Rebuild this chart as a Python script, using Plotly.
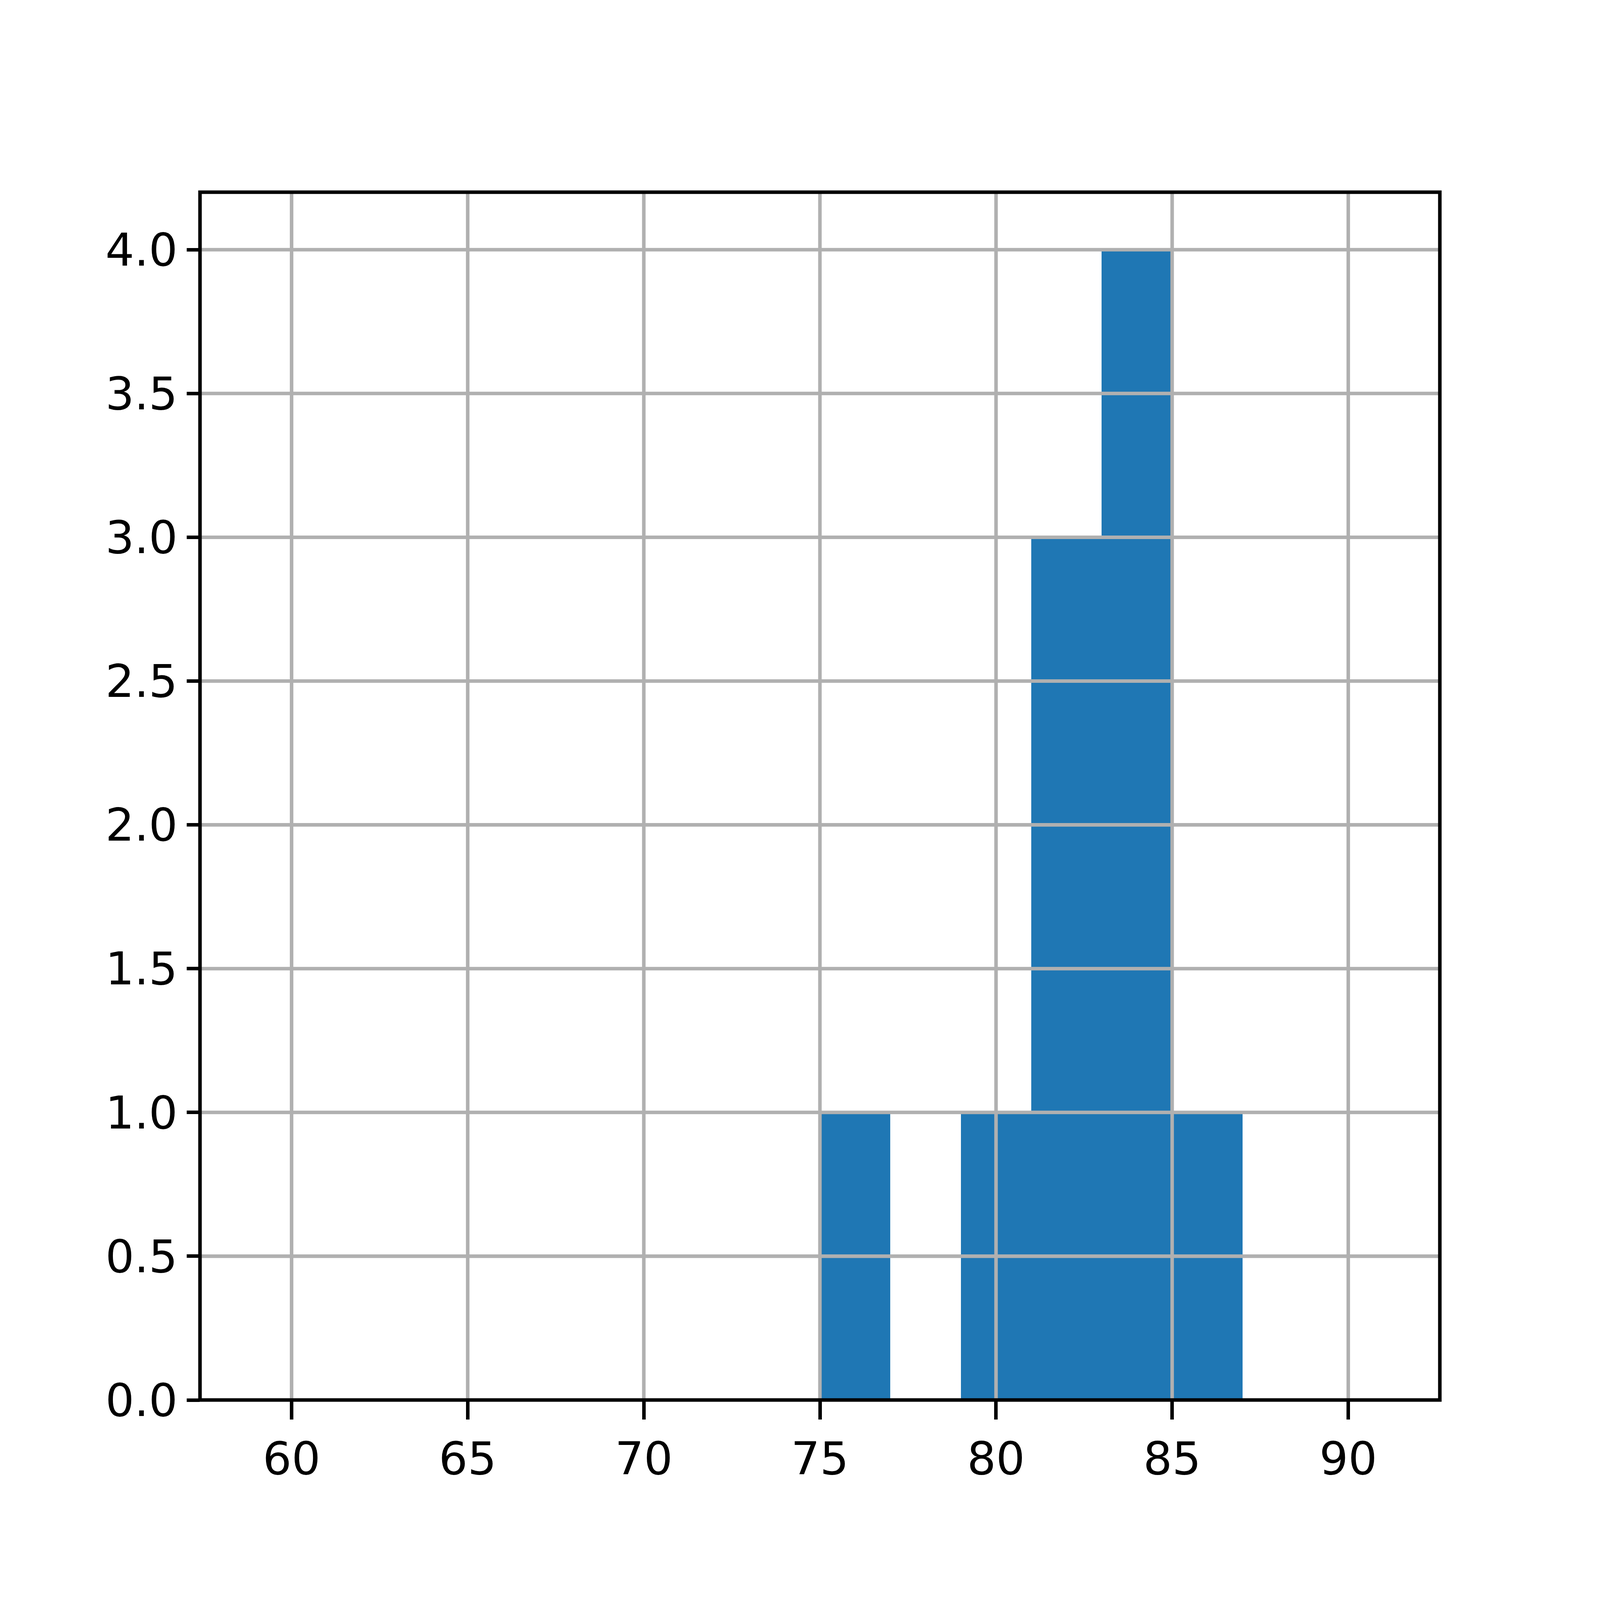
import plotly.graph_objects as go

# histogram: 16 bins of width 2 from 59 to 91
bin_edges = [59, 61, 63, 65, 67, 69, 71, 73, 75, 77, 79, 81, 83, 85, 87, 89, 91]
counts = [0, 0, 0, 0, 0, 0, 0, 0, 1, 0, 1, 3, 4, 1, 0, 0]

x_ticks = [60, 65, 70, 75, 80, 85, 90]
y_ticks = [0.0, 0.5, 1.0, 1.5, 2.0, 2.5, 3.0, 3.5, 4.0]

x_range = [57.4, 92.6]
y_range = [0, 4.2]

centers = [(a + b) / 2 for a, b in zip(bin_edges[:-1], bin_edges[1:])]
widths = [b - a for a, b in zip(bin_edges[:-1], bin_edges[1:])]

fig = go.Figure(
    go.Bar(
        x=centers,
        y=counts,
        width=widths,
        marker=dict(color="#1f77b4", line=dict(width=0)),
        showlegend=False,
        hovertemplate="%{x}: %{y}<extra></extra>",
    )
)

grid = dict(color="#b0b0b0", width=13)
# matplotlib draws the grid over the bars, so use shapes on top
shapes = []
for t in x_ticks:
    shapes.append(dict(type="line", xref="x", yref="paper", x0=t, x1=t,
                       y0=0, y1=1, line=grid, layer="above"))
for t in y_ticks[1:]:
    shapes.append(dict(type="line", xref="paper", yref="y", x0=0, x1=1,
                       y0=t, y1=t, line=grid, layer="above"))
# axes frame
shapes.append(dict(type="rect", xref="paper", yref="paper", x0=0, x1=1,
                   y0=0, y1=1, line=dict(color="black", width=13),
                   layer="above"))

tick_font = dict(family="DejaVu Sans", size=167, color="black")
axis_style = dict(
    showgrid=False,
    zeroline=False,
    showline=False,
    ticks="outside",
    ticklen=58,
    tickwidth=13,
    tickcolor="black",
    tickfont=tick_font,
    fixedrange=True,
)

fig.update_layout(
    width=7200,
    height=4800,
    margin=dict(l=900, r=720, t=576, b=600, pad=0, autoexpand=False),
    plot_bgcolor="white",
    paper_bgcolor="white",
    bargap=0,
    shapes=shapes,
    xaxis=dict(
        range=x_range,
        tickvals=x_ticks,
        ticktext=[str(t) for t in x_ticks],
        ticklabelstandoff=55,
        **axis_style,
    ),
    yaxis=dict(
        range=y_range,
        tickvals=y_ticks,
        ticktext=[f"{t:.1f}" for t in y_ticks],
        ticklabelstandoff=31,
        **axis_style,
    ),
)

# the browser may not give us the full 7200x4800; scale the layout to the window
fit_js = """
var gd = document.getElementById('{plot_id}');
document.body.style.margin = '0';
document.body.style.overflow = 'hidden';
var W = window.innerWidth, H = window.innerHeight;
var sx = W / 7200, sy = H / 4800, s = Math.sqrt(sx * sy);
var m = gd.layout.margin;
var upd = {
  width: W, height: H,
  margin: {l: m.l * sx, r: m.r * sx, t: m.t * sy, b: m.b * sy, pad: 0, autoexpand: false}
};
var along = {xaxis: sy, yaxis: sx};
['xaxis', 'yaxis'].forEach(function (a) {
  var ax = gd.layout[a];
  upd[a + '.ticklen'] = ax.ticklen * along[a];
  upd[a + '.tickwidth'] = ax.tickwidth * s;
  upd[a + '.tickfont.size'] = ax.tickfont.size * s;
  upd[a + '.ticklabelstandoff'] = ax.ticklabelstandoff * along[a];
});
upd.shapes = gd.layout.shapes.map(function (sh) {
  var c = JSON.parse(JSON.stringify(sh));
  c.line.width = sh.line.width * s;
  return c;
});
Plotly.relayout(gd, upd);
"""

fig.write_html("out.html", post_script=fit_js, config={"displayModeBar": False})
